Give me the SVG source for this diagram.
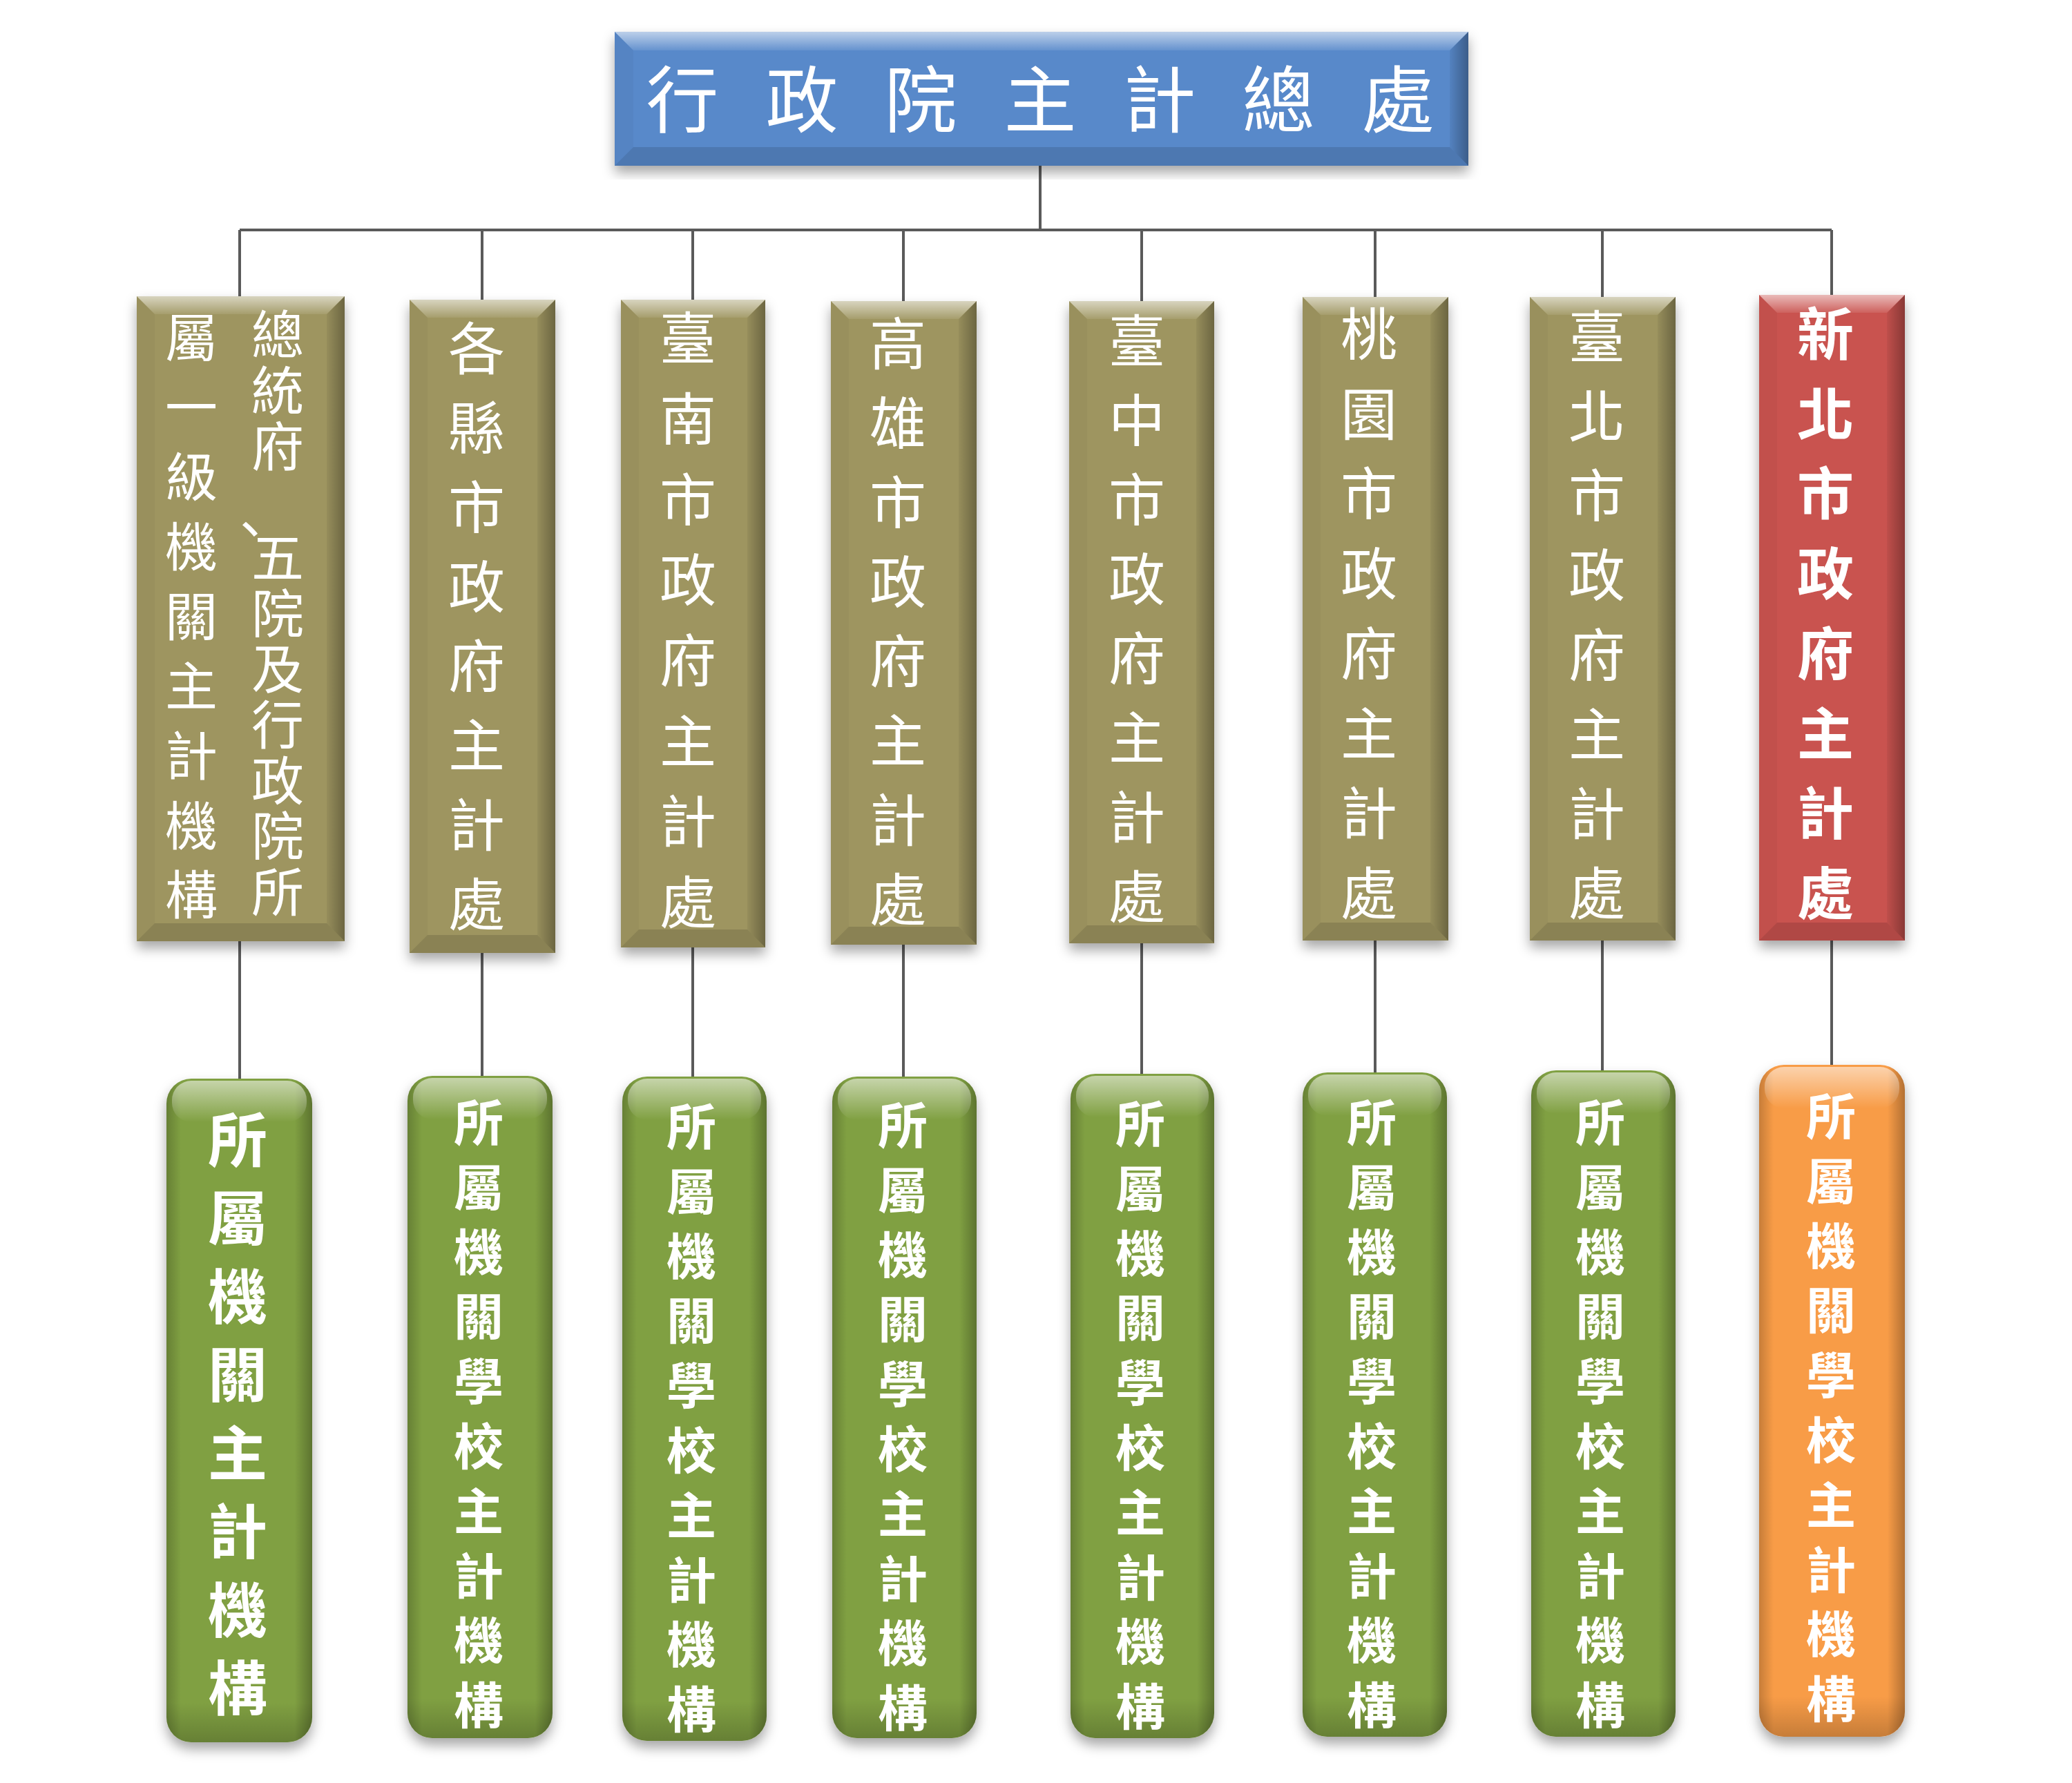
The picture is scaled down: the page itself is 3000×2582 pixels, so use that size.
<svg xmlns="http://www.w3.org/2000/svg" width="3000" height="2582" viewBox="0 0 3000 2582">
<style>
.t{font-family:"Noto Sans CJK TC","Noto Sans CJK SC",sans-serif;fill:#fff;text-anchor:middle;dominant-baseline:central}
.title{font-size:105px}
.mid{font-size:82px}
.b1{font-size:76px}
.red{font-size:82px;font-weight:bold}
.bot1{font-size:86px;font-weight:bold}
.bot{font-size:72px;font-weight:bold}
.conn{stroke:#5a5a5a;stroke-width:4;fill:none}
.olive{fill:#9e9560}
.redf{fill:#c9534f}
.blue{fill:#5889ca}
.green{fill:#80a043}
.orange{fill:#f89c47}
.bt{fill:url(#topHi)}
.bb{fill:#000;fill-opacity:.12}
.bl{fill:#000;fill-opacity:.03}
.br{fill:url(#rightSh)}
.edge{fill:url(#edgeSh)}
.hi{fill:url(#roundHi)}
</style>
<defs>
<linearGradient id="topHi" x1="0" y1="0" x2="0" y2="1"><stop offset="0" stop-color="#fff" stop-opacity=".6"/><stop offset="1" stop-color="#fff" stop-opacity=".08"/></linearGradient>
<linearGradient id="rightSh" x1="0" y1="0" x2="1" y2="0"><stop offset="0" stop-color="#000" stop-opacity=".05"/><stop offset="1" stop-color="#000" stop-opacity=".32"/></linearGradient>
<linearGradient id="edgeSh" x1="0" y1="0" x2="1" y2="0"><stop offset="0" stop-color="#000" stop-opacity=".2"/><stop offset=".1" stop-color="#000" stop-opacity="0"/><stop offset=".88" stop-color="#000" stop-opacity="0"/><stop offset="1" stop-color="#000" stop-opacity=".28"/></linearGradient>
<linearGradient id="roundHi" x1="0" y1="0" x2="0" y2="1"><stop offset="0" stop-color="#fff" stop-opacity=".55"/><stop offset="1" stop-color="#fff" stop-opacity="0"/></linearGradient>
<linearGradient id="botSh" x1="0" y1="0" x2="0" y2="1"><stop offset="0" stop-color="#000" stop-opacity="0"/><stop offset=".94" stop-color="#000" stop-opacity="0"/><stop offset="1" stop-color="#000" stop-opacity=".2"/></linearGradient>
<filter id="sh" x="-20%" y="-5%" width="140%" height="115%"><feDropShadow dx="0" dy="10" stdDeviation="9" flood-color="#000" flood-opacity=".35"/></filter>
</defs>

<g id="connectors">
<path class="conn" d="M1506 240V333M347 333H2652"/>
<path class="conn" d="M347 333V429M698 333V434M1003 333V434M1308 333V436M1653 333V436M1991 333V430M2320 333V430M2652 333V427"/>
<path class="conn" d="M347 1363V1562M698 1380V1558M1003 1372V1559M1308 1368V1559M1653 1366V1555M1991 1362V1553M2320 1362V1550M2652 1362V1542"/>
</g>

<g id="n0">
<g filter="url(#sh)"><rect class="blue" x="890" y="46" width="1236" height="194"/></g>
<polygon class="bt" points="890,46 2126,46 2099,73 917,73"/>
<polygon class="bb" points="890,240 2126,240 2099,213 917,213"/>
<polygon class="bl" points="890,46 917,73 917,213 890,240"/>
<polygon class="br" points="2126,46 2099,73 2099,213 2126,240"/>
<text class="t title" x="988 1074 1161 1247 1333 1420 1506 1592 1679 1765 1851 1938 2024" y="137">行 政 院 主 計 總 處</text>
</g>

<g id="n1">
<g filter="url(#sh)"><rect class="olive" x="198" y="429" width="301" height="934"/></g>
<polygon class="bt" points="198,429 499,429 473,455 224,455"/>
<polygon class="bb" points="198,1363 499,1363 473,1337 224,1337"/>
<polygon class="bl" points="198,429 224,455 224,1337 198,1363"/>
<polygon class="br" points="499,429 473,455 473,1337 499,1363"/>
<text class="t b1" x="402 402 402 362 402 402 402 402 402 402 402" y="480 561 642 762 803 884 964 1045 1126 1206 1287">總統府、五院及行政院所</text>
<text class="t b1" x="277 277 277 277 277 277 277 277 277" y="484 585 686 787 888 989 1090 1191 1291">屬一級機關主計機構</text>
</g>

<g id="n2">
<g filter="url(#sh)"><rect class="olive" x="593" y="434" width="211" height="946"/></g>
<polygon class="bt" points="593,434 804,434 778,460 619,460"/>
<polygon class="bb" points="593,1380 804,1380 778,1354 619,1354"/>
<polygon class="bl" points="593,434 619,460 619,1354 593,1380"/>
<polygon class="br" points="804,434 778,460 778,1354 804,1380"/>
<text class="t mid" x="690 690 690 690 690 690 690 690" y="499 614 729 844 959 1074 1189 1304">各縣市政府主計處</text>
</g>

<g id="n3">
<g filter="url(#sh)"><rect class="olive" x="899" y="434" width="209" height="938"/></g>
<polygon class="bt" points="899,434 1108,434 1082,460 925,460"/>
<polygon class="bb" points="899,1372 1108,1372 1082,1346 925,1346"/>
<polygon class="bl" points="899,434 925,460 925,1346 899,1372"/>
<polygon class="br" points="1108,434 1082,460 1082,1346 1108,1372"/>
<text class="t mid" x="996 996 996 996 996 996 996 996" y="484 601 718 834 951 1068 1184 1301">臺南市政府主計處</text>
</g>

<g id="n4">
<g filter="url(#sh)"><rect class="olive" x="1203" y="436" width="211" height="932"/></g>
<polygon class="bt" points="1203,436 1414,436 1388,462 1229,462"/>
<polygon class="bb" points="1203,1368 1414,1368 1388,1342 1229,1342"/>
<polygon class="bl" points="1203,436 1229,462 1229,1342 1203,1368"/>
<polygon class="br" points="1414,436 1388,462 1388,1342 1414,1368"/>
<text class="t mid" x="1300 1300 1300 1300 1300 1300 1300 1300" y="492 607 722 837 952 1067 1182 1297">高雄市政府主計處</text>
</g>

<g id="n5">
<g filter="url(#sh)"><rect class="olive" x="1548" y="436" width="210" height="930"/></g>
<polygon class="bt" points="1548,436 1758,436 1732,462 1574,462"/>
<polygon class="bb" points="1548,1366 1758,1366 1732,1340 1574,1340"/>
<polygon class="bl" points="1548,436 1574,462 1574,1340 1548,1366"/>
<polygon class="br" points="1758,436 1732,462 1732,1340 1758,1366"/>
<text class="t mid" x="1646 1646 1646 1646 1646 1646 1646 1646" y="488 603 718 833 948 1063 1178 1293">臺中市政府主計處</text>
</g>

<g id="n6">
<g filter="url(#sh)"><rect class="olive" x="1886" y="430" width="211" height="932"/></g>
<polygon class="bt" points="1886,430 2097,430 2071,456 1912,456"/>
<polygon class="bb" points="1886,1362 2097,1362 2071,1336 1912,1336"/>
<polygon class="bl" points="1886,430 1912,456 1912,1336 1886,1362"/>
<polygon class="br" points="2097,430 2071,456 2071,1336 2097,1362"/>
<text class="t mid" x="1982 1982 1982 1982 1982 1982 1982 1982" y="478 594 709 825 941 1057 1172 1288">桃園市政府主計處</text>
</g>

<g id="n7">
<g filter="url(#sh)"><rect class="olive" x="2215" y="430" width="211" height="932"/></g>
<polygon class="bt" points="2215,430 2426,430 2400,456 2241,456"/>
<polygon class="bb" points="2215,1362 2426,1362 2400,1336 2241,1336"/>
<polygon class="bl" points="2215,430 2241,456 2241,1336 2215,1362"/>
<polygon class="br" points="2426,430 2400,456 2400,1336 2426,1362"/>
<text class="t mid" x="2312 2312 2312 2312 2312 2312 2312 2312" y="482 597 712 827 943 1058 1173 1288">臺北市政府主計處</text>
</g>

<g id="n8">
<g filter="url(#sh)"><rect class="redf" x="2547" y="427" width="211" height="935"/></g>
<polygon class="bt" points="2547,427 2758,427 2732,453 2573,453"/>
<polygon class="bb" points="2547,1362 2758,1362 2732,1336 2573,1336"/>
<polygon class="bl" points="2547,427 2573,453 2573,1336 2547,1362"/>
<polygon class="br" points="2758,427 2732,453 2732,1336 2758,1362"/>
<text class="t red" x="2643 2643 2643 2643 2643 2643 2643 2643" y="478 594 709 825 941 1057 1172 1288">新北市政府主計處</text>
</g>

<g id="m1">
<g filter="url(#sh)"><rect class="green" x="241" y="1562" width="211" height="961" rx="36"/></g>
<rect class="edge" x="241" y="1562" width="211" height="961" rx="36"/>
<rect fill="url(#botSh)" x="241" y="1562" width="211" height="961" rx="36"/>
<rect class="hi" x="249" y="1565" width="195" height="60" rx="28"/>
<text class="t bot1" x="344 344 344 344 344 344 344 344" y="1645 1758 1872 1985 2099 2212 2326 2439">所屬機關主計機構</text>
</g>

<g id="m2">
<g filter="url(#sh)"><rect class="green" x="590" y="1558" width="210" height="959" rx="36"/></g>
<rect class="edge" x="590" y="1558" width="210" height="959" rx="36"/>
<rect fill="url(#botSh)" x="590" y="1558" width="210" height="959" rx="36"/>
<rect class="hi" x="598" y="1561" width="194" height="60" rx="28"/>
<text class="t bot" x="693 693 693 693 693 693 693 693 693 693" y="1620 1714 1808 1901 1995 2089 2183 2277 2370 2464">所屬機關學校主計機構</text>
</g>

<g id="m3">
<g filter="url(#sh)"><rect class="green" x="901" y="1559" width="209" height="962" rx="36"/></g>
<rect class="edge" x="901" y="1559" width="209" height="962" rx="36"/>
<rect fill="url(#botSh)" x="901" y="1559" width="209" height="962" rx="36"/>
<rect class="hi" x="909" y="1562" width="193" height="60" rx="28"/>
<text class="t bot" x="1001 1001 1001 1001 1001 1001 1001 1001 1001 1001" y="1626 1720 1814 1907 2001 2095 2189 2283 2376 2470">所屬機關學校主計機構</text>
</g>

<g id="m4">
<g filter="url(#sh)"><rect class="green" x="1205" y="1559" width="209" height="958" rx="36"/></g>
<rect class="edge" x="1205" y="1559" width="209" height="958" rx="36"/>
<rect fill="url(#botSh)" x="1205" y="1559" width="209" height="958" rx="36"/>
<rect class="hi" x="1213" y="1562" width="193" height="60" rx="28"/>
<text class="t bot" x="1307 1307 1307 1307 1307 1307 1307 1307 1307 1307" y="1624 1718 1812 1905 1999 2093 2187 2281 2374 2468">所屬機關學校主計機構</text>
</g>

<g id="m5">
<g filter="url(#sh)"><rect class="green" x="1550" y="1555" width="208" height="962" rx="36"/></g>
<rect class="edge" x="1550" y="1555" width="208" height="962" rx="36"/>
<rect fill="url(#botSh)" x="1550" y="1555" width="208" height="962" rx="36"/>
<rect class="hi" x="1558" y="1558" width="192" height="60" rx="28"/>
<text class="t bot" x="1651 1651 1651 1651 1651 1651 1651 1651 1651 1651" y="1622 1716 1810 1903 1997 2091 2185 2279 2372 2466">所屬機關學校主計機構</text>
</g>

<g id="m6">
<g filter="url(#sh)"><rect class="green" x="1886" y="1553" width="209" height="962" rx="36"/></g>
<rect class="edge" x="1886" y="1553" width="209" height="962" rx="36"/>
<rect fill="url(#botSh)" x="1886" y="1553" width="209" height="962" rx="36"/>
<rect class="hi" x="1894" y="1556" width="193" height="60" rx="28"/>
<text class="t bot" x="1986 1986 1986 1986 1986 1986 1986 1986 1986 1986" y="1620 1714 1808 1901 1995 2089 2183 2277 2370 2464">所屬機關學校主計機構</text>
</g>

<g id="m7">
<g filter="url(#sh)"><rect class="green" x="2217" y="1550" width="209" height="965" rx="36"/></g>
<rect class="edge" x="2217" y="1550" width="209" height="965" rx="36"/>
<rect fill="url(#botSh)" x="2217" y="1550" width="209" height="965" rx="36"/>
<rect class="hi" x="2225" y="1553" width="193" height="60" rx="28"/>
<text class="t bot" x="2317 2317 2317 2317 2317 2317 2317 2317 2317 2317" y="1620 1714 1808 1901 1995 2089 2183 2277 2370 2464">所屬機關學校主計機構</text>
</g>

<g id="m8">
<g filter="url(#sh)"><rect class="orange" x="2547" y="1542" width="211" height="973" rx="36"/></g>
<rect class="edge" x="2547" y="1542" width="211" height="973" rx="36"/>
<rect fill="url(#botSh)" x="2547" y="1542" width="211" height="973" rx="36"/>
<rect class="hi" x="2555" y="1545" width="195" height="60" rx="28"/>
<text class="t bot" x="2651 2651 2651 2651 2651 2651 2651 2651 2651 2651" y="1611 1705 1799 1892 1986 2080 2174 2268 2361 2455">所屬機關學校主計機構</text>
</g>
</svg>
